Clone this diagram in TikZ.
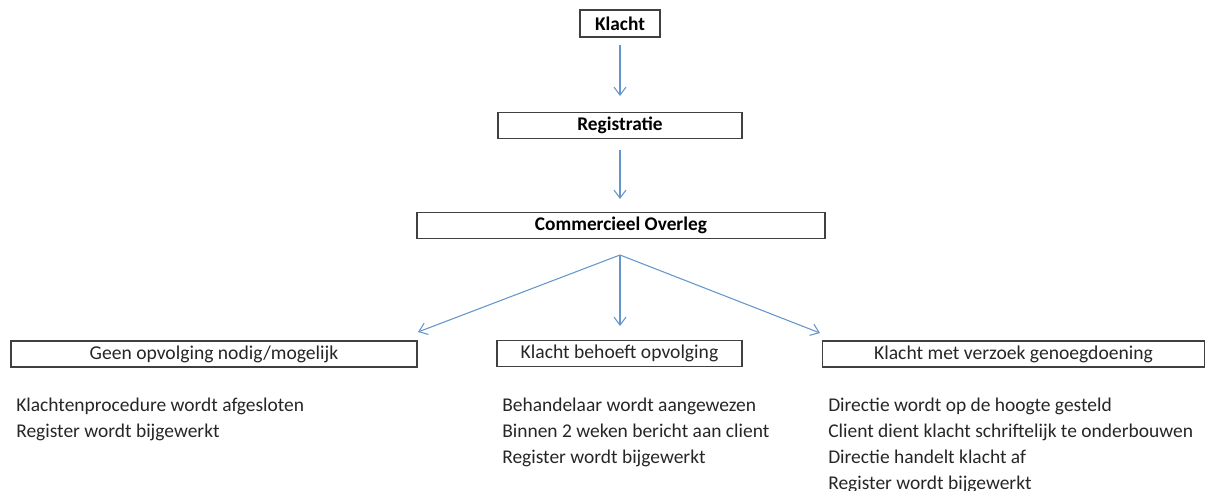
\documentclass[tikz,border=0pt]{standalone}
\usepackage{fontspec}
\setmainfont{Carlito}
\usetikzlibrary{arrows.meta}
\definecolor{arrowblue}{RGB}{100,150,205}
\begin{document}
\begin{tikzpicture}[x=0.75pt,y=-0.75pt,
  box/.style={draw=black!75,line width=0.9pt,inner sep=0pt,anchor=center,font=\fontsize{14.7}{16}\selectfont,text=black!85},
  tbox/.style={box,font=\fontsize{14.5}{16}\selectfont\bfseries,text=black},
  body/.style={anchor=north west,align=left,inner sep=0pt,font=\fontsize{14.6}{19.5}\selectfont,text=black!85},
  conn/.style={draw=arrowblue,line width=0.8pt,-{Straight Barb[length=6pt,width=9pt]}}]
\useasboundingbox (0,0) rectangle (1207,490);
\node[tbox,minimum width=60pt,minimum height=20.25pt] (k) at (620,23.5) {Klacht};
\node[tbox,minimum width=183pt,minimum height=19pt] (r) at (620,125.5) {Registratie};
\node[tbox,minimum width=306pt,minimum height=20pt] (c) at (621,225.5) {Commercieel Overleg};
\node[box,minimum width=304.5pt,minimum height=19.5pt] (g) at (214,354) {Geen opvolging nodig/mogelijk};
\node[box,minimum width=183.75pt,minimum height=19pt] (b) at (619.5,353.5) {Klacht behoeft opvolging};
\node[box,minimum width=287pt,minimum height=19.5pt] (v) at (1013.5,354) {Klacht met verzoek genoegdoening};
\coordinate (k1) at (620,45);
\coordinate (k2) at (620,96);
\coordinate (r1) at (620,150);
\coordinate (r2) at (620,199);
\coordinate (c0) at (620,255);
\coordinate (g1) at (418,332);
\coordinate (b1) at (620,326);
\coordinate (v1) at (820,333);
\draw[conn] (k1) -- (k2);
\draw[conn] (r1) -- (r2);
\draw[conn] (c0) -- (g1);
\draw[conn] (c0) -- (b1);
\draw[conn] (c0) -- (v1);
\node[body] (tg) at (16,398) {Klachtenprocedure wordt afgesloten\\Register wordt bijgewerkt};
\node[body] (tb) at (502,398) {Behandelaar wordt aangewezen\\Binnen 2 weken bericht aan client\\Register wordt bijgewerkt};
\node[body] (tv) at (828,398) {Directie wordt op de hoogte gesteld\\Client dient klacht schriftelijk te onderbouwen\\Directie handelt klacht af\\Register wordt bijgewerkt};
\end{tikzpicture}
\end{document}
